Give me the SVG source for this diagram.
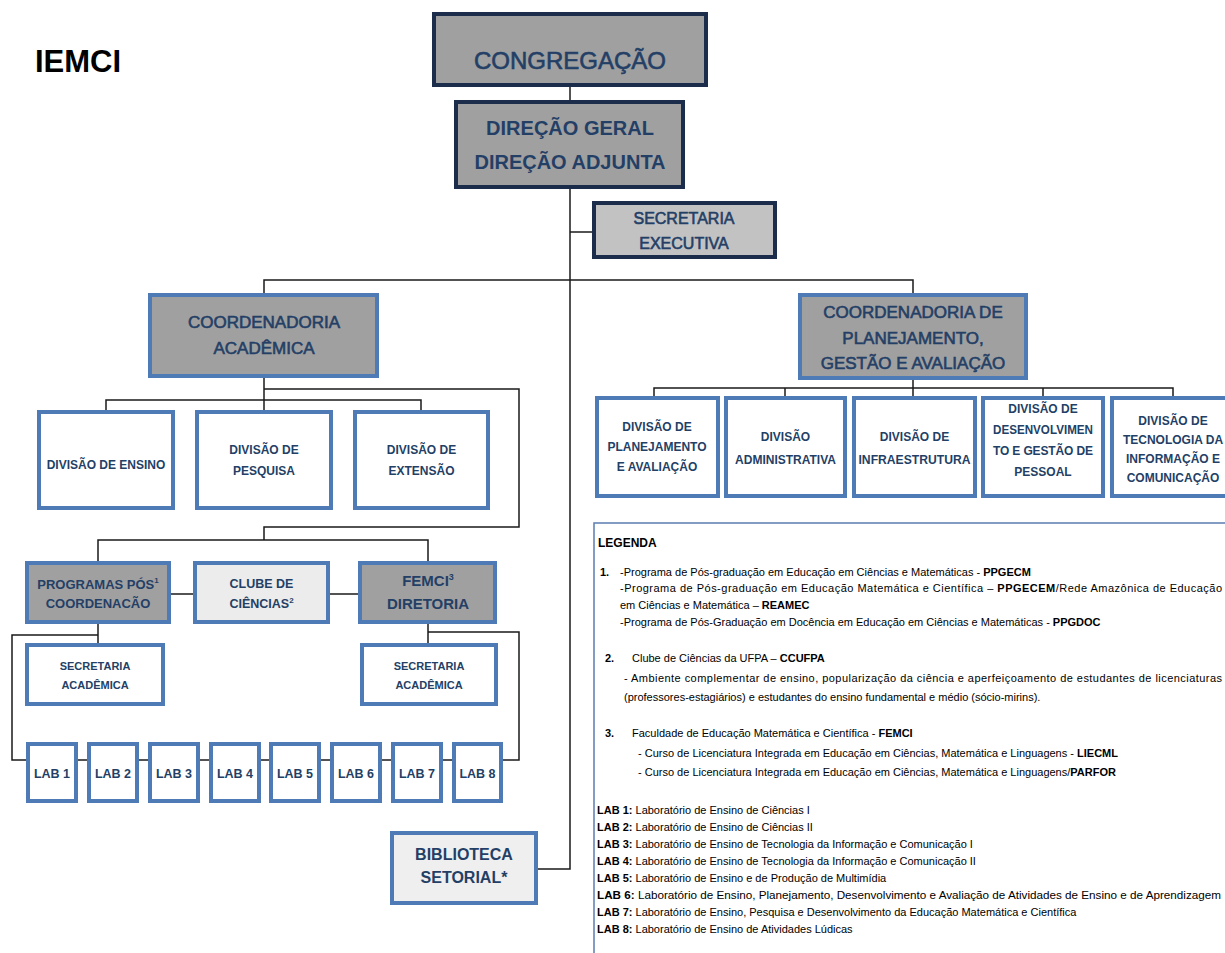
<svg xmlns="http://www.w3.org/2000/svg" width="1225" height="953" viewBox="0 0 1225 953">
<style>
  .dk{fill:#a0a0a0;stroke:#1b2d4b;stroke-width:4}
  .dkl{fill:#c2c2c2;stroke:#1b2d4b;stroke-width:4}
  .bg{fill:#a0a0a0;stroke:#4e7ab5;stroke-width:4}
  .bw{fill:#ffffff;stroke:#4e7ab5;stroke-width:4}
  .bl{fill:#ececec;stroke:#4e7ab5;stroke-width:4}
  .t{font-family:"Liberation Sans",Arial,sans-serif;fill:#243f66;text-anchor:middle}
  .b{font-weight:bold}
  .th{stroke:#243f66;stroke-width:0.6}
  .lg{font-family:"Liberation Sans",Arial,sans-serif;fill:#000}
  .conn path{fill:none;stroke:#1a1a1a;stroke-width:1.5}
</style>
<rect width="1225" height="953" fill="#ffffff"/>
<text x="35" y="72" font-family="Liberation Sans,Arial,sans-serif" font-size="31" font-weight="bold" fill="#000">IEMCI</text>

<g class="conn" id="connectors">
  <path d="M570 87V100"/>
  <path d="M570 189V869H538"/>
  <path d="M570 232H592"/>
  <path d="M264 293V280H913V293"/>
  <path d="M264 378V412"/>
  <path d="M106 412V400H421V412"/>
  <path d="M264 389H519V527H264V540"/>
  <path d="M98 561V540H428V561"/>
  <path d="M171 594H193"/>
  <path d="M330 594H358"/>
  <path d="M98 624V643"/>
  <path d="M98 635H12V760H26"/>
  <path d="M428 624V643"/>
  <path d="M428 632H519V760H503"/>
  <path d="M26 760H503"/>
  <path d="M913 380V396"/>
  <path d="M654 396V388H1173V396"/>
  <path d="M785 388V396"/>
  <path d="M1043 388V396"/>
</g>

<g id="congregacao">
  <rect class="dk" x="434" y="14" width="272" height="71"/>
  <text class="t th" x="570" y="69" font-size="24">CONGREGAÇÃO</text>
</g>
<g id="direcao">
  <rect class="dk" x="456" y="102" width="227" height="85"/>
  <text class="t b" x="570" y="135" font-size="20">DIREÇÃO GERAL</text>
  <text class="t b" x="570" y="169" font-size="20">DIREÇÃO ADJUNTA</text>
</g>
<g id="secretaria-executiva">
  <rect class="dkl" x="594" y="203" width="181" height="54"/>
  <text class="t th" x="684" y="224" font-size="16">SECRETARIA</text>
  <text class="t th" x="684" y="249" font-size="16">EXECUTIVA</text>
</g>
<g id="coord-academica">
  <rect class="bg" x="150" y="295" width="227" height="81"/>
  <text class="t th" x="264" y="328" font-size="17">COORDENADORIA</text>
  <text class="t th" x="264" y="354" font-size="17">ACADÊMICA</text>
</g>
<g id="coord-planejamento">
  <rect class="bg" x="800" y="295" width="226" height="83"/>
  <text class="t th" x="913" y="318" font-size="17">COORDENADORIA DE</text>
  <text class="t th" x="913" y="344" font-size="17">PLANEJAMENTO,</text>
  <text class="t th" x="913" y="369" font-size="17">GESTÃO E AVALIAÇÃO</text>
</g>

<g id="div-planejamento">
  <rect class="bw" x="597" y="398" width="121" height="98"/>
  <text class="t b" x="657" y="431" font-size="12">DIVISÃO DE</text>
  <text class="t b" x="657" y="451" font-size="12">PLANEJAMENTO</text>
  <text class="t b" x="657" y="471" font-size="12">E AVALIAÇÃO</text>
</g>
<g id="div-administrativa">
  <rect class="bw" x="726" y="398" width="119" height="98"/>
  <text class="t b" x="785.5" y="441" font-size="12">DIVISÃO</text>
  <text class="t b" x="785.5" y="464" font-size="12">ADMINISTRATIVA</text>
</g>
<g id="div-infraestrutura">
  <rect class="bw" x="854" y="398" width="121" height="98"/>
  <text class="t b" x="914.5" y="441" font-size="12">DIVISÃO DE</text>
  <text class="t b" x="914.5" y="464" font-size="12" textLength="112" lengthAdjust="spacingAndGlyphs">INFRAESTRUTURA</text>
</g>
<g id="div-pessoal">
  <rect class="bw" x="983" y="398" width="120" height="98"/>
  <text class="t b" x="1043" y="413" font-size="12">DIVISÃO DE</text>
  <text class="t b" x="1043" y="434" font-size="12" textLength="100" lengthAdjust="spacingAndGlyphs">DESENVOLVIMEN</text>
  <text class="t b" x="1043" y="455" font-size="12" textLength="100" lengthAdjust="spacing">TO E GESTÃO DE</text>
  <text class="t b" x="1043" y="476" font-size="12">PESSOAL</text>
</g>
<g id="div-tecnologia">
  <rect class="bw" x="1112" y="398" width="130" height="98"/>
  <text class="t b" x="1173" y="425" font-size="12">DIVISÃO DE</text>
  <text class="t b" x="1173" y="444" font-size="12">TECNOLOGIA DA</text>
  <text class="t b" x="1173" y="463" font-size="12">INFORMAÇÃO E</text>
  <text class="t b" x="1173" y="482" font-size="12">COMUNICAÇÃO</text>
</g>

<g id="div-ensino">
  <rect class="bw" x="39" y="412" width="134" height="96"/>
  <text class="t b" x="106" y="469" font-size="12">DIVISÃO DE ENSINO</text>
</g>
<g id="div-pesquisa">
  <rect class="bw" x="197" y="412" width="134" height="96"/>
  <text class="t b" x="264" y="454" font-size="12">DIVISÃO DE</text>
  <text class="t b" x="264" y="475" font-size="12">PESQUISA</text>
</g>
<g id="div-extensao">
  <rect class="bw" x="355" y="412" width="133" height="96"/>
  <text class="t b" x="421.5" y="454" font-size="12">DIVISÃO DE</text>
  <text class="t b" x="421.5" y="475" font-size="12">EXTENSÃO</text>
</g>

<g id="programas-pos">
  <rect class="bg" x="27" y="563" width="142" height="59"/>
  <text class="t b" x="98" y="589" font-size="13">PROGRAMAS PÓS<tspan font-size="8" dy="-6">1</tspan></text>
  <text class="t b" x="98" y="608" font-size="13">COORDENACÃO</text>
</g>
<g id="clube-ciencias">
  <rect class="bl" x="195" y="563" width="133" height="59"/>
  <text class="t b" x="261.5" y="588" font-size="12.5">CLUBE DE</text>
  <text class="t b" x="261.5" y="608" font-size="12.5">CIÊNCIAS<tspan font-size="8" dy="-5">2</tspan></text>
</g>
<g id="femci">
  <rect class="bg" x="360" y="563" width="135" height="59"/>
  <text class="t b" x="428" y="586" font-size="15">FEMCI<tspan font-size="9" dy="-6">3</tspan></text>
  <text class="t b" x="428" y="609" font-size="15">DIRETORIA</text>
</g>
<g id="secretaria-academica-1">
  <rect class="bw" x="27" y="645" width="136" height="59"/>
  <text class="t b" x="95" y="670" font-size="11">SECRETARIA</text>
  <text class="t b" x="95" y="689" font-size="11">ACADÊMICA</text>
</g>
<g id="secretaria-academica-2">
  <rect class="bw" x="362" y="645" width="134" height="59"/>
  <text class="t b" x="429" y="670" font-size="11">SECRETARIA</text>
  <text class="t b" x="429" y="689" font-size="11">ACADÊMICA</text>
</g>

<g id="lab1"><rect class="bw" x="28" y="744" width="48" height="57"/><text class="t b" x="52" y="778" font-size="12.5">LAB 1</text></g>
<g id="lab2"><rect class="bw" x="89" y="744" width="48" height="57"/><text class="t b" x="113" y="778" font-size="12.5">LAB 2</text></g>
<g id="lab3"><rect class="bw" x="150" y="744" width="48" height="57"/><text class="t b" x="174" y="778" font-size="12.5">LAB 3</text></g>
<g id="lab4"><rect class="bw" x="211" y="744" width="48" height="57"/><text class="t b" x="235" y="778" font-size="12.5">LAB 4</text></g>
<g id="lab5"><rect class="bw" x="271" y="744" width="48" height="57"/><text class="t b" x="295" y="778" font-size="12.5">LAB 5</text></g>
<g id="lab6"><rect class="bw" x="332" y="744" width="48" height="57"/><text class="t b" x="356" y="778" font-size="12.5">LAB 6</text></g>
<g id="lab7"><rect class="bw" x="393" y="744" width="48" height="57"/><text class="t b" x="417" y="778" font-size="12.5">LAB 7</text></g>
<g id="lab8"><rect class="bw" x="454" y="744" width="47" height="57"/><text class="t b" x="477.5" y="778" font-size="12.5">LAB 8</text></g>

<g id="biblioteca">
  <rect class="bl" x="392" y="833" width="144" height="70" style="fill:#efefef"/>
  <text class="t b" x="464" y="860" font-size="16">BIBLIOTECA</text>
  <text class="t b" x="464" y="883" font-size="16">SETORIAL*</text>
</g>

<g id="legenda" font-size="11">
  <rect x="594" y="523" width="640" height="440" fill="#ffffff" stroke="#5b7cb0" stroke-width="1.5"/>
  <text class="lg" x="598" y="547" font-size="12" font-weight="bold">LEGENDA</text>
  <text class="lg" x="600" y="576" font-weight="bold">1.</text>
  <text class="lg" x="620" y="576">-Programa de Pós-graduação em Educação em Ciências e Matemáticas - <tspan font-weight="bold">PPGECM</tspan></text>
  <text class="lg" x="620" y="592" textLength="602" lengthAdjust="spacing">-Programa de Pós-graduação em Educação Matemática e Científica – <tspan font-weight="bold">PPGECEM</tspan>/Rede Amazônica de Educação</text>
  <text class="lg" x="620" y="609">em Ciências e Matemática – <tspan font-weight="bold">REAMEC</tspan></text>
  <text class="lg" x="620" y="626">-Programa de Pós-Graduação em Docência em Educação em Ciências e Matemáticas - <tspan font-weight="bold">PPGDOC</tspan></text>
  <text class="lg" x="605" y="662" font-weight="bold">2.</text>
  <text class="lg" x="632" y="662">Clube de Ciências da UFPA – <tspan font-weight="bold">CCUFPA</tspan></text>
  <text class="lg" x="624" y="682" textLength="598" lengthAdjust="spacing">- Ambiente complementar de ensino, popularização da ciência e aperfeiçoamento de estudantes de licenciaturas</text>
  <text class="lg" x="624" y="701">(professores-estagiários) e estudantes do ensino fundamental e médio (sócio-mirins).</text>
  <text class="lg" x="605" y="737" font-weight="bold">3.</text>
  <text class="lg" x="632" y="737">Faculdade de Educação Matemática e Científica - <tspan font-weight="bold">FEMCI</tspan></text>
  <text class="lg" x="638" y="757">- Curso de Licenciatura Integrada em Educação em Ciências, Matemática e Linguagens - <tspan font-weight="bold">LIECML</tspan></text>
  <text class="lg" x="638" y="776">- Curso de Licenciatura Integrada em Educação em Ciências, Matemática e Linguagens/<tspan font-weight="bold">PARFOR</tspan></text>
  <text class="lg" x="597" y="814"><tspan font-weight="bold">LAB 1:</tspan> Laboratório de Ensino de Ciências I</text>
  <text class="lg" x="597" y="831"><tspan font-weight="bold">LAB 2:</tspan> Laboratório de Ensino de  Ciências II</text>
  <text class="lg" x="597" y="848"><tspan font-weight="bold">LAB 3:</tspan> Laboratório de Ensino de Tecnologia da  Informação e Comunicação I</text>
  <text class="lg" x="597" y="865"><tspan font-weight="bold">LAB 4:</tspan> Laboratório de Ensino de Tecnologia da Informação e Comunicação II</text>
  <text class="lg" x="597" y="882"><tspan font-weight="bold">LAB 5:</tspan> Laboratório  de Ensino e de Produção de Multimídia</text>
  <text class="lg" x="597" y="899" textLength="624" lengthAdjust="spacingAndGlyphs"><tspan font-weight="bold">LAB 6:</tspan> Laboratório de Ensino, Planejamento, Desenvolvimento e Avaliação de Atividades de Ensino e de Aprendizagem</text>
  <text class="lg" x="597" y="916"><tspan font-weight="bold">LAB 7:</tspan> Laboratório  de Ensino, Pesquisa e Desenvolvimento da Educação Matemática e Científica</text>
  <text class="lg" x="597" y="933"><tspan font-weight="bold">LAB 8:</tspan> Laboratório de Ensino de Atividades Lúdicas</text>
</g>
</svg>
